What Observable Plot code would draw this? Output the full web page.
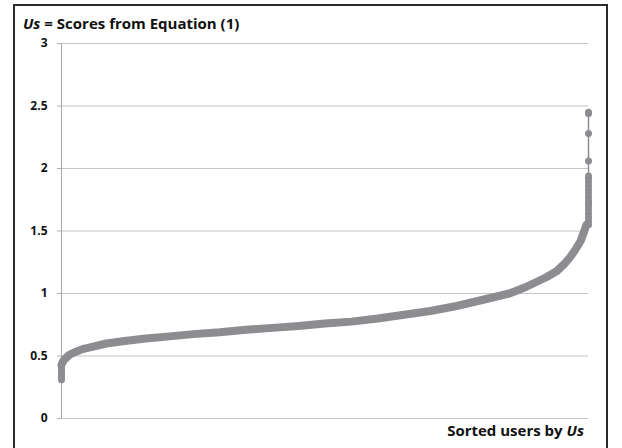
<!DOCTYPE html>
<html>
<head>
<meta charset="utf-8">
<script src="https://cdn.jsdelivr.net/npm/d3@7"></script>
<script src="https://cdn.jsdelivr.net/npm/@observablehq/plot@0.6"></script>
<style>
  html, body { margin: 0; padding: 0; background: #fff; overflow: hidden; }
  #wrap { position: relative; width: 622px; height: 448px; font-family: "Open Sans", "DejaVu Sans", sans-serif; }
  #frame { position: absolute; left: 13px; top: 4px; width: 595px; height: 470px; border: 2px solid #2a2a2a; box-sizing: border-box; }
  #title { position: absolute; left: 23px; top: 14px; font-size: 15px; line-height: 18px; font-weight: bold; color: #111; white-space: nowrap; }
  #xlabel { position: absolute; right: 38px; top: 421px; font-size: 15px; line-height: 18px; font-weight: bold; color: #111; white-space: nowrap; }
  #chart { position: absolute; left: 0; top: 0; }
</style>
</head>
<body>
<div id="wrap">
  <div id="chart"></div>
  <div id="frame"></div>
  <div id="title"><i>Us</i> = Scores from Equation (1)</div>
  <div id="xlabel">Sorted users by <i>Us</i></div>
</div>
<script>
// Y-axis ticks
const yTicks = [0, 0.5, 1, 1.5, 2, 2.5, 3];

// Lowest-scored users (stacked at the start of the sorted list)
const headScore = [0.31, 0.33, 0.35, 0.37, 0.39, 0.41, 0.43];

// Sorted scores along the ranked list (rank on a 0–1000 scale)
const bodyRank  = [0, 2, 5, 10, 15, 25, 40, 60, 85, 120, 160, 200, 250, 300, 350, 400, 450, 500, 550, 600, 650, 700, 750, 800, 850, 880, 900, 920, 940, 955, 965, 975, 985, 992, 996];
const bodyScore = [0.43, 0.45, 0.47, 0.49, 0.51, 0.53, 0.555, 0.575, 0.60, 0.62, 0.64, 0.655, 0.675, 0.69, 0.71, 0.725, 0.74, 0.76, 0.775, 0.80, 0.83, 0.86, 0.90, 0.95, 1.00, 1.05, 1.09, 1.13, 1.18, 1.24, 1.29, 1.35, 1.42, 1.50, 1.55];

// Highest-scored users (stacked at the end of the sorted list)
const tailScore = [1.55, 1.58, 1.61, 1.64, 1.67, 1.70, 1.72, 1.74, 1.77, 1.80, 1.83, 1.86, 1.89, 1.92, 1.94, 2.06, 2.28, 2.44, 2.45];

const head = headScore.map(s => ({rank: 0, score: s}));
const body = bodyRank.map((r, i) => ({rank: r, score: bodyScore[i]}));
const tail = tailScore.map(s => ({rank: 1000, score: s}));
const all = [...head, ...body, ...tail];

const gray = "#8c8c91";

const chart = Plot.plot({
  width: 622,
  height: 448,
  marginLeft: 61,
  marginRight: 34,
  marginTop: 43,
  marginBottom: 30,
  style: { fontFamily: '"Open Sans", "DejaVu Sans", sans-serif', fontSize: "12px", fontWeight: "bold", color: "#111", background: "transparent" },
  x: { domain: [0, 1000], axis: null },
  y: { domain: [0, 3] },
  marks: [
    Plot.ruleY(yTicks, { stroke: "#c4c4c4", strokeWidth: 1 }),
    Plot.axisY({ ticks: yTicks, tickSize: 4, tickPadding: 10, stroke: "#b0b0b0", strokeOpacity: 1, label: null, tickFormat: d => String(d) }),
    Plot.ruleX([0], { stroke: "#a8a8a8", strokeWidth: 1 }),
    Plot.line(all, { x: "rank", y: "score", stroke: gray, strokeWidth: 1.5 }),
    Plot.line(body, { x: "rank", y: "score", stroke: gray, strokeWidth: 8, strokeLinecap: "round", strokeLinejoin: "round" }),
    Plot.dot([...head, ...tail], { x: "rank", y: "score", r: 3.5, fill: gray, stroke: "none" })
  ]
});
document.getElementById("chart").appendChild(chart);
</script>
</body>
</html>
